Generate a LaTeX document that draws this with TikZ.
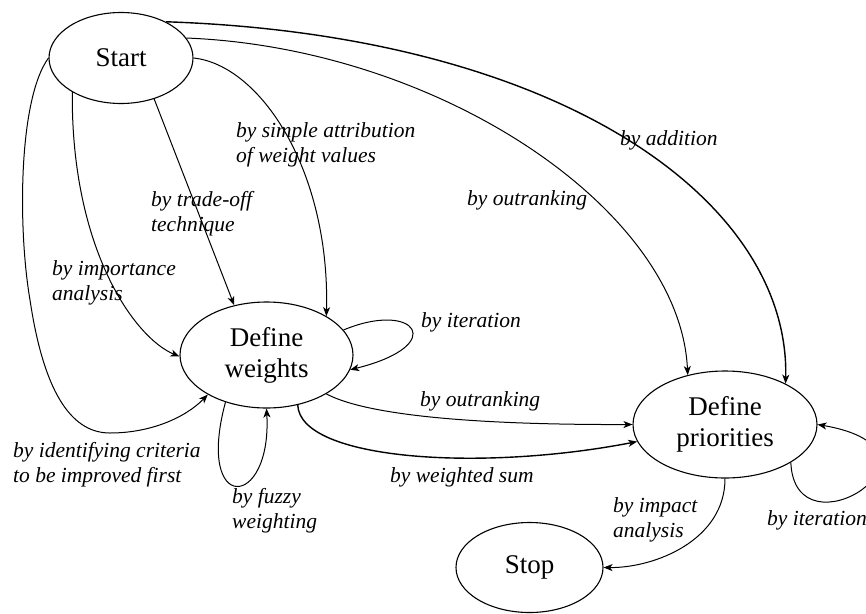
\documentclass[tikz,border=0pt]{standalone}
\usepackage{fontspec}
\setmainfont{Liberation Serif}
\usetikzlibrary{shapes.geometric,arrows.meta}
\begin{document}
\begin{tikzpicture}[x=1pt,y=-1pt,
  state/.style={ellipse, draw, line width=1.1pt, inner sep=0pt, align=center, font=\fontsize{27}{31}\selectfont},
  lbl/.style={anchor=base west, inner sep=0pt, align=left, font=\fontsize{21.5}{25}\selectfont\itshape},
  conn/.style={line width=1pt, -{Stealth[length=9pt,width=7pt,inset=2.5pt]}},
  connb/.style={conn, line width=1.4pt}]
\useasboundingbox (0,0) rectangle (866,613);

\node[state, minimum width=144pt, minimum height=91pt] (start) at (121,58) {Start};
\node[state, minimum width=173pt, minimum height=106pt] (dw) at (266.5,355) {Define\\weights};
\node[state, minimum width=184pt, minimum height=107pt] (dp) at (725,424.5) {Define\\priorities};
\node[state, minimum width=147pt, minimum height=90pt] (stop) at (529.5,567.5) {Stop};

% Start -> Define priorities
\draw[connb] (start.39) .. controls (560,35) and (790,200) .. (dp.34);
\draw[conn] (start.17) .. controls (440,48) and (680,210) .. (dp.127);

% Start -> Define weights
\draw[conn] (start.0) .. controls (260,65) and (330,170) .. (dw.33);
\draw[conn] (start.-51) -- (dw.123);
\draw[conn] (start.-145) .. controls (71,250) and (135,338) .. (dw.181);
\draw[conn] (start.180) .. controls (18,100) and (18,230) .. (30,300)
   .. controls (45,400) and (75,433) .. (110,433)
   .. controls (150,433) and (185,418) .. (dw.214);

% loops on Define weights
\draw[conn] (dw.18) .. controls (415,300) and (450,345) .. (dw.-10);
\draw[conn] (dw.-131) .. controls (195,515) and (272,510) .. (dw.-90);

% Define weights -> Define priorities
\draw[conn] (dw.-33) .. controls (360,412) and (450,425) .. (dp.180);
\draw[connb] (dw.-58) .. controls (300,460) and (480,472) .. (dp.-169);

% Define priorities -> Stop, loop
\draw[conn] (dp.-90) .. controls (725,540) and (655,568) .. (stop.0);
\draw[conn] (dp.-30) .. controls (795,560) and (965,450) .. (dp.0);

% labels (base = baseline of last line)
\node[lbl] (l1) at (236,162) {by simple attribution\\of weight values};
\node[lbl] (l2) at (151,231) {by trade-off\\technique};
\node[lbl] (l3) at (52,300) {by importance\\analysis};
\node[lbl] (l4) at (620,145) {by addition};
\node[lbl] (l5) at (467,205) {by outranking};
\node[lbl] (l6) at (421,327) {by iteration};
\node[lbl] (l7) at (420,406) {by outranking};
\node[lbl] (l8) at (390,482) {by weighted sum};
\node[lbl] (l9) at (13,482) {by identifying criteria\\to be improved first};
\node[lbl] (l10) at (232,528) {by fuzzy\\weighting};
\node[lbl] (l11) at (613,537) {by impact\\analysis};
\node[lbl] (l12) at (767,525) {by iteration};
\end{tikzpicture}
\end{document}
